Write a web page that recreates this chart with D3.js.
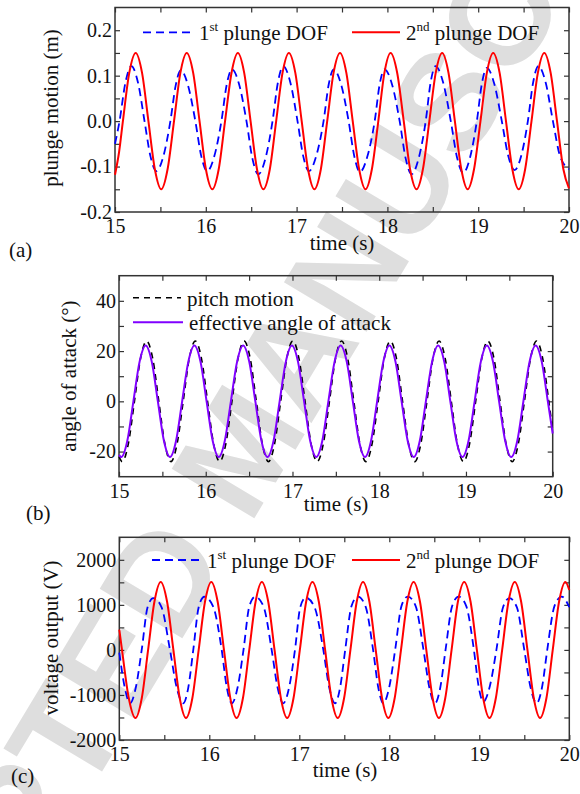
<!DOCTYPE html>
<html>
  <head>
    <title>Plunge, pitch and voltage</title>
    <script src="https://d3js.org/d3.v7.min.js"></script>
    <style>
      body { margin: 0; background: #fff; }
      text { font-family: "Liberation Serif", "Times New Roman", serif; fill: #111; }
      .watermark { font-family: "Liberation Sans", Arial, sans-serif; font-weight: bold; fill: #dedede; }
    </style>
  </head>
  <body>
    <div id="chart"></div>
    <script>
      // time axis (s)
      const timeTicks = [15, 16, 17, 18, 19, 20];
      const timeMinor = [15.5, 16.5, 17.5, 18.5, 19.5];

      // (a) plunge motion (m), [time, value]
      const plunge1st = [
        [15.000, -0.050], [15.050, 0], [15.115, 0.085], [15.180, 0.121], [15.253, 0.085],
        [15.325, 0], [15.390, -0.077], [15.455, -0.110], [15.533, -0.077],
        [15.610, 0], [15.668, 0.078], [15.725, 0.112], [15.805, 0.078],
        [15.885, 0], [15.950, -0.077], [16.015, -0.110], [16.094, -0.077],
        [16.172, 0], [16.230, 0.080], [16.288, 0.114], [16.368, 0.080],
        [16.448, 0], [16.513, -0.082], [16.578, -0.117], [16.657, -0.082],
        [16.735, 0], [16.794, 0.085], [16.852, 0.121], [16.931, 0.085],
        [17.010, 0], [17.073, -0.077], [17.135, -0.110], [17.216, -0.077],
        [17.297, 0], [17.353, 0.080], [17.408, 0.114], [17.491, 0.080],
        [17.573, 0], [17.636, -0.078], [17.698, -0.112], [17.779, -0.078],
        [17.860, 0], [17.914, 0.080], [17.968, 0.114], [18.052, 0.080],
        [18.135, 0], [18.201, -0.082], [18.266, -0.117], [18.344, -0.082],
        [18.422, 0], [18.476, 0.085], [18.530, 0.121], [18.614, 0.085],
        [18.698, 0], [18.767, -0.080], [18.835, -0.114], [18.910, -0.080],
        [18.985, 0], [19.040, 0.082], [19.094, 0.117], [19.177, 0.082],
        [19.260, 0], [19.330, -0.076], [19.400, -0.108], [19.474, -0.076],
        [19.547, 0], [19.605, 0.085], [19.662, 0.121], [19.743, 0.085],
        [19.823, 0], [19.900, -0.076], [20.000, -0.106]
      ];
      const plunge2nd = [
        [15.000, -0.118], [15.045, -0.068], [15.087, 0], [15.157, 0.106], [15.228, 0.150], [15.298, 0.106],
        [15.368, 0], [15.439, -0.106], [15.509, -0.150], [15.579, -0.106],
        [15.650, 0], [15.720, 0.106], [15.790, 0.150], [15.861, 0.106],
        [15.931, 0], [16.001, -0.106], [16.072, -0.150], [16.142, -0.106],
        [16.212, 0], [16.283, 0.106], [16.353, 0.150], [16.423, 0.106],
        [16.493, 0], [16.564, -0.106], [16.634, -0.150], [16.705, -0.106],
        [16.775, 0], [16.845, 0.106], [16.915, 0.150], [16.986, 0.106],
        [17.056, 0], [17.126, -0.106], [17.196, -0.150], [17.267, -0.106],
        [17.337, 0], [17.407, 0.106], [17.478, 0.150], [17.548, 0.106],
        [17.618, 0], [17.689, -0.106], [17.759, -0.150], [17.829, -0.106],
        [17.900, 0], [17.967, 0.106], [18.035, 0.150], [18.108, 0.106],
        [18.180, 0], [18.250, -0.106], [18.321, -0.150], [18.391, -0.106],
        [18.462, 0], [18.532, 0.106], [18.603, 0.150], [18.673, 0.106],
        [18.743, 0], [18.814, -0.106], [18.884, -0.150], [18.954, -0.106],
        [19.025, 0], [19.095, 0.106], [19.165, 0.150], [19.236, 0.106],
        [19.306, 0], [19.376, -0.106], [19.446, -0.150], [19.517, -0.106],
        [19.587, 0], [19.657, 0.106], [19.728, 0.150], [19.798, 0.106],
        [19.868, 0], [19.938, -0.106], [20.000, -0.148]
      ];
      const plungeTicks = [-0.2, -0.1, 0, 0.1, 0.2];
      const plungeMinor = [-0.15, -0.05, 0.05, 0.15];

      // (b) angle of attack (deg)
      const pitchMotion = [
        [15.000, -22.0], [15.037, -24.0], [15.107, -17.0], [15.178, 0], [15.248, 17.0], [15.318, 24.0], [15.389, 17.0],
        [15.459, 0], [15.529, -17.0], [15.599, -24.0], [15.669, -17.0],
        [15.740, 0], [15.810, 17.0], [15.880, 24.0], [15.951, 17.0],
        [16.021, 0], [16.091, -17.0], [16.161, -24.0], [16.231, -17.0],
        [16.302, 0], [16.372, 17.0], [16.442, 24.0], [16.513, 17.0],
        [16.583, 0], [16.653, -17.0], [16.723, -24.0], [16.793, -17.0],
        [16.864, 0], [16.934, 17.0], [17.004, 24.0], [17.075, 17.0],
        [17.145, 0], [17.215, -17.0], [17.285, -24.0], [17.355, -17.0],
        [17.426, 0], [17.496, 17.0], [17.566, 24.0], [17.637, 17.0],
        [17.707, 0], [17.777, -17.0], [17.847, -24.0], [17.917, -17.0],
        [17.988, 0], [18.058, 17.0], [18.128, 24.0], [18.199, 17.0],
        [18.269, 0], [18.339, -17.0], [18.409, -24.0], [18.479, -17.0],
        [18.550, 0], [18.620, 17.0], [18.690, 24.0], [18.761, 17.0],
        [18.831, 0], [18.901, -17.0], [18.971, -24.0], [19.041, -17.0],
        [19.112, 0], [19.182, 17.0], [19.252, 24.0], [19.323, 17.0],
        [19.393, 0], [19.463, -17.0], [19.533, -24.0], [19.603, -17.0],
        [19.674, 0], [19.744, 17.0], [19.814, 24.0], [19.885, 17.0],
        [19.955, 0], [20.000, -11.6]
      ];
      const effectiveAoA = [
        [15.000, -21.3], [15.026, -22.2], [15.096, -15.7], [15.166, 0], [15.237, 15.7], [15.307, 22.2], [15.378, 15.7],
        [15.448, 0], [15.518, -15.7], [15.588, -22.2], [15.658, -15.7],
        [15.728, 0], [15.799, 15.7], [15.869, 22.2], [15.940, 15.7],
        [16.010, 0], [16.080, -15.7], [16.150, -22.2], [16.220, -15.7],
        [16.290, 0], [16.361, 15.7], [16.431, 22.2], [16.502, 15.7],
        [16.572, 0], [16.642, -15.7], [16.712, -22.2], [16.782, -15.7],
        [16.852, 0], [16.923, 15.7], [16.993, 22.2], [17.064, 15.7],
        [17.134, 0], [17.204, -15.7], [17.274, -22.2], [17.344, -15.7],
        [17.414, 0], [17.485, 15.7], [17.555, 22.2], [17.626, 15.7],
        [17.696, 0], [17.766, -15.7], [17.836, -22.2], [17.906, -15.7],
        [17.976, 0], [18.047, 15.7], [18.117, 22.2], [18.188, 15.7],
        [18.258, 0], [18.328, -15.7], [18.398, -22.2], [18.468, -15.7],
        [18.538, 0], [18.609, 15.7], [18.679, 22.2], [18.750, 15.7],
        [18.820, 0], [18.890, -15.7], [18.960, -22.2], [19.030, -15.7],
        [19.100, 0], [19.171, 15.7], [19.241, 22.2], [19.312, 15.7],
        [19.382, 0], [19.452, -15.7], [19.522, -22.2], [19.592, -15.7],
        [19.662, 0], [19.733, 15.7], [19.803, 22.2], [19.874, 15.7],
        [19.944, 0], [20.000, -12.8]
      ];
      const angleTicks = [-20, 0, 20, 40];
      const angleMinor = [-10, 10, 30];

      // (c) voltage output (V)
      const voltage1st = [
        [15.000, -60], [15.060, -830], [15.119, -1185], [15.184, -830],
        [15.249, 0], [15.314, 945], [15.378, 1150], [15.470, 945],
        [15.563, 0], [15.637, -830], [15.711, -1185], [15.767, -830],
        [15.822, 0], [15.884, 968], [15.945, 1180], [16.042, 968],
        [16.138, 0], [16.194, -830], [16.249, -1185], [16.315, -830],
        [16.380, 0], [16.445, 968], [16.510, 1180], [16.602, 968],
        [16.693, 0], [16.758, -830], [16.822, -1185], [16.887, -830],
        [16.952, 0], [17.011, 951], [17.070, 1160], [17.169, 951],
        [17.267, 0], [17.332, -830], [17.397, -1185], [17.454, -830],
        [17.510, 0], [17.580, 972], [17.650, 1185], [17.735, 972],
        [17.820, 0], [17.877, -830], [17.933, -1185], [17.999, -830],
        [18.065, 0], [18.135, 972], [18.205, 1185], [18.293, 972],
        [18.380, 0], [18.444, -830], [18.508, -1185], [18.567, -830],
        [18.625, 0], [18.698, 972], [18.770, 1185], [18.855, 972],
        [18.940, 0], [18.992, -805], [19.044, -1150], [19.117, -805],
        [19.190, 0], [19.263, 943], [19.335, 1150], [19.418, 943],
        [19.500, 0], [19.569, -830], [19.638, -1185], [19.697, -830],
        [19.755, 0], [19.835, 972], [19.915, 1185], [20.000, 950]
      ];
      const voltage2nd = [
        [15.000, 450], [15.030, 0], [15.105, -1068], [15.179, -1510], [15.250, -1068],
        [15.320, 0], [15.390, 1068], [15.460, 1510], [15.531, 1068],
        [15.601, 0], [15.671, -1068], [15.741, -1510], [15.812, -1068],
        [15.882, 0], [15.952, 1068], [16.022, 1510], [16.093, 1068],
        [16.163, 0], [16.233, -1068], [16.303, -1510], [16.374, -1068],
        [16.444, 0], [16.514, 1068], [16.584, 1510], [16.655, 1068],
        [16.725, 0], [16.795, -1068], [16.865, -1510], [16.936, -1068],
        [17.006, 0], [17.076, 1068], [17.146, 1510], [17.217, 1068],
        [17.287, 0], [17.357, -1068], [17.427, -1510], [17.498, -1068],
        [17.568, 0], [17.638, 1068], [17.708, 1510], [17.779, 1068],
        [17.849, 0], [17.919, -1068], [17.989, -1510], [18.060, -1068],
        [18.130, 0], [18.200, 1068], [18.270, 1510], [18.341, 1068],
        [18.411, 0], [18.481, -1068], [18.551, -1510], [18.622, -1068],
        [18.692, 0], [18.762, 1068], [18.832, 1510], [18.903, 1068],
        [18.973, 0], [19.043, -1068], [19.113, -1510], [19.184, -1068],
        [19.254, 0], [19.324, 1068], [19.394, 1510], [19.465, 1068],
        [19.535, 0], [19.605, -1068], [19.675, -1510], [19.746, -1068],
        [19.816, 0], [19.886, 1068], [19.956, 1510], [20.000, 1330]
      ];
      const voltageTicks = [-2000, -1000, 0, 1000, 2000];
      const voltageMinor = [-1500, -500, 500, 1500];

      const svg = d3.select("#chart").append("svg")
        .attr("width", 580)
        .attr("height", 794);

      // "accepted manuscript" stamp behind the plots
      svg.append("text")
        .attr("class", "watermark")
        .attr("text-anchor", "middle")
        .attr("dominant-baseline", "central")
        .attr("font-size", 140)
        .attr("transform", "translate(240,448) rotate(-59)")
        .text("ACCEPTED MANUSCRIPT");

      function drawPanel(p) {
        const x = d3.scaleLinear().domain([15, 20]).range([p.left, p.right]);
        const y = d3.scaleLinear().domain(p.yDomain).range([p.bottom, p.top]);
        const g = svg.append("g");

        // axes: ticks point inwards on all four sides
        const styleAxis = (sel) => {
          sel.select(".domain").remove();
          sel.selectAll(".tick line").attr("stroke", "#333").attr("stroke-width", 1.2);
          sel.selectAll("text").attr("font-size", 20).attr("font-family", "Liberation Serif").attr("fill", "#111");
        };
        g.append("g").attr("transform", `translate(0,${p.bottom})`)
          .call(d3.axisBottom(x).tickValues(timeTicks).tickSize(-5).tickPadding(7).tickFormat(d3.format("d")))
          .call(styleAxis);
        g.append("g").attr("transform", `translate(0,${p.bottom})`)
          .call(d3.axisBottom(x).tickValues(timeMinor).tickSize(-5).tickFormat(""))
          .call(styleAxis);
        g.append("g").attr("transform", `translate(0,${p.top})`)
          .call(d3.axisTop(x).tickValues(timeTicks.concat(timeMinor)).tickSize(-5).tickFormat(""))
          .call(styleAxis);
        g.append("g").attr("transform", `translate(${p.left},0)`)
          .call(d3.axisLeft(y).tickValues(p.yTicks).tickSize(-5).tickPadding(3).tickFormat(p.fmt))
          .call(styleAxis);
        g.append("g").attr("transform", `translate(${p.left},0)`)
          .call(d3.axisLeft(y).tickValues(p.yMinor).tickSize(-5).tickFormat(""))
          .call(styleAxis);
        g.append("g").attr("transform", `translate(${p.right},0)`)
          .call(d3.axisRight(y).tickValues(p.yTicks.concat(p.yMinor)).tickSize(-5).tickFormat(""))
          .call(styleAxis);

        // frame
        g.append("rect")
          .attr("x", p.left).attr("y", p.top)
          .attr("width", p.right - p.left).attr("height", p.bottom - p.top)
          .attr("fill", "none").attr("stroke", "#333").attr("stroke-width", 1.5);

        // curves
        const line = d3.line()
          .x((d) => x(d[0]))
          .y((d) => y(d[1]))
          .curve(d3.curveMonotoneX);
        p.series.forEach((s) => {
          g.append("path")
            .datum(s.data)
            .attr("fill", "none")
            .attr("stroke", s.color)
            .attr("stroke-width", s.width)
            .attr("stroke-dasharray", s.dash || null)
            .attr("d", line);
        });

        // axis titles
        g.append("text")
          .attr("text-anchor", "middle")
          .attr("font-size", 21)
          .attr("x", p.xTitle[0]).attr("y", p.xTitle[1])
          .text("time (s)");
        g.append("text")
          .attr("text-anchor", "middle")
          .attr("font-size", 21)
          .attr("transform", `translate(${p.yTitle[0]},${p.yTitle[1]}) rotate(-90)`)
          .text(p.yLabel);
        g.append("text")
          .attr("font-size", 21)
          .attr("x", p.tag[0]).attr("y", p.tag[1])
          .text(p.tagText);

        // legend
        p.legend.forEach((l) => {
          const s = p.series[l.index];
          g.append("line")
            .attr("x1", l.x1).attr("x2", l.x2)
            .attr("y1", l.y).attr("y2", l.y)
            .attr("stroke", s.color)
            .attr("stroke-width", s.width)
            .attr("stroke-dasharray", s.dash || null);
          const t = g.append("text")
            .attr("font-size", 21)
            .attr("x", l.x2 + 6).attr("y", l.y + 8);
          if (l.sup) {
            t.append("tspan").text(l.label[0]);
            t.append("tspan").attr("font-size", 13).attr("dy", -9).text(l.label[1]);
            t.append("tspan").attr("dy", 9).text(l.label[2]);
          } else {
            t.text(l.label);
          }
        });
      }

      drawPanel({
        left: 115, right: 569, top: 7.5, bottom: 212,
        yDomain: [-0.2, 0.25], yTicks: plungeTicks, yMinor: plungeMinor,
        fmt: (d) => d.toFixed(1),
        yLabel: "plunge motion (m)", yTitle: [58, 108],
        xTitle: [342, 250], tag: [9, 257], tagText: "(a)",
        series: [
          { data: plunge1st, color: "#0000ff", width: 1.8, dash: "8,5" },
          { data: plunge2nd, color: "#ff0000", width: 2 }
        ],
        legend: [
          { index: 0, x1: 143, x2: 193, y: 32.3, sup: true, label: ["1", "st", " plunge DOF"] },
          { index: 1, x1: 352, x2: 400, y: 32.3, sup: true, label: ["2", "nd", " plunge DOF"] }
        ]
      });

      drawPanel({
        left: 119, right: 552.7, top: 275.7, bottom: 476.7,
        yDomain: [-30, 50], yTicks: angleTicks, yMinor: angleMinor,
        fmt: (d) => String(d),
        yLabel: "angle of attack (\u00b0)", yTitle: [76, 376],
        xTitle: [336, 511], tag: [26, 520], tagText: "(b)",
        series: [
          { data: pitchMotion, color: "#000000", width: 1.6, dash: "6,5" },
          { data: effectiveAoA, color: "#8000ff", width: 2 }
        ],
        legend: [
          { index: 0, x1: 133, x2: 181, y: 297.7, label: "pitch motion" },
          { index: 1, x1: 133, x2: 183, y: 322.3, label: "effective angle of attack" }
        ]
      });

      drawPanel({
        left: 119.3, right: 569.3, top: 537.3, bottom: 740,
        yDomain: [-2000, 2500], yTicks: voltageTicks, yMinor: voltageMinor,
        fmt: (d) => String(d),
        yLabel: "voltage output (V)", yTitle: [58, 638],
        xTitle: [345, 777], tag: [11, 783], tagText: "(c)",
        series: [
          { data: voltage1st, color: "#0000ff", width: 1.8, dash: "8,5" },
          { data: voltage2nd, color: "#ff0000", width: 2 }
        ],
        legend: [
          { index: 0, x1: 152, x2: 201, y: 560, sup: true, label: ["1", "st", " plunge DOF"] },
          { index: 1, x1: 352, x2: 400, y: 560, sup: true, label: ["2", "nd", " plunge DOF"] }
        ]
      });
    </script>
  </body>
</html>
